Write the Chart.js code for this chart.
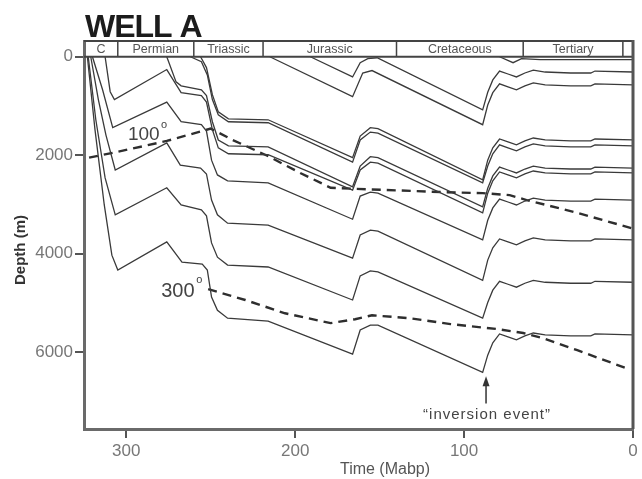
<!DOCTYPE html>
<html>
<head>
<meta charset="utf-8">
<title>Well A burial history</title>
<script src="https://cdn.jsdelivr.net/npm/chart.js@4.4.1/dist/chart.umd.min.js"></script>
<style>
  html, body { margin: 0; padding: 0; background: #fff; }
  #burialChart { display: block; }
</style>
</head>
<body>
<canvas id="burialChart" width="642" height="479"></canvas>
<script>
// burial curves, [age Ma, depth m], oldest horizon first
const horizonL1 = [[323,0],[318.5,1480],[313,3010],[308.5,4030],[305,4330],[276,3760],[267,4170],[255,4210],[252,4330],[249.5,4880],[246,5150],[240,5310],[216,5370],[166,6040],[161.5,5550],[155.5,5450],[151,5450],[89,6410],[86,6060],[83,5810],[79,5630],[74,5690],[69,5750],[64,5670],[59,5610],[52,5650],[37,5670],[25,5670],[22.5,5630],[0,5650]];
const horizonL2 = [[322.5,0],[318,1280],[312.5,2460],[306.5,3210],[276,2660],[267.5,3010],[255.5,3110],[252.5,3230],[249.5,3780],[246,4070],[240,4230],[216,4270],[166,4940],[161.5,4450],[155.5,4350],[151,4370],[89,5310],[86,4990],[83,4740],[79,4560],[74,4620],[69,4680],[64,4600],[59,4540],[52,4580],[37,4600],[25,4600],[22.5,4560],[0,4580]];
const horizonL3 = [[321,0],[316.5,870],[312,1590],[306.5,2300],[276,1750],[268,2200],[256,2260],[252.5,2380],[249.5,2910],[246,3210],[240,3380],[216,3420],[166,4090],[161.5,3620],[155.5,3520],[151,3540],[89,4540],[86,4130],[83,3880],[79,3700],[74,3760],[69,3820],[64,3740],[59,3680],[52,3720],[37,3740],[25,3740],[22.5,3700],[0,3720]];
const horizonL4 = [[320,0],[314,670],[308,1440],[276,920],[267.5,1320],[255.5,1380],[252.5,1510],[249.5,2100],[246,2400],[240,2520],[216,2560],[166,3300],[161.5,2830],[155.5,2750],[151,2770],[89,3720],[86,3320],[83,3070],[79,2890],[74,2950],[69,3010],[64,2930],[59,2870],[52,2910],[37,2930],[25,2930],[22.5,2890],[0,2910]];
const horizonL5 = [[312.5,0],[309.5,710],[307,870],[276,260],[267.5,730],[255.5,790],[252.5,920],[249,1480],[245.5,1850],[239.5,1970],[216,1990],[166,2710],[161.5,2300],[155.5,2140],[151,2160],[89,3170],[86,2770],[83,2520],[79,2340],[74,2400],[69,2460],[64,2380],[59,2320],[52,2360],[37,2380],[25,2380],[22.5,2340],[0,2360]];
const horizonP1 = [[276,0],[270.5,510],[267.5,590],[255.5,670],[252.5,790],[249,1320],[245.5,1690],[239.5,1810],[216,1830],[166,2640],[161.5,2220],[155.5,2030],[151,2050],[89,3050],[86,2670],[83,2420],[79,2240],[74,2300],[69,2360],[64,2280],[59,2220],[52,2260],[37,2280],[25,2280],[22.5,2240],[0,2260]];
const horizonTr1 = [[262,0],[255.5,100],[252,370],[249,870],[245.5,1180],[239.5,1320],[216,1340],[166,2140],[161.5,1690],[155.5,1530],[151,1550],[89,2560],[86,2220],[83,1970],[79,1790],[74,1850],[69,1910],[64,1830],[59,1770],[52,1810],[37,1830],[25,1830],[22.5,1790],[0,1810]];
const horizonTr2 = [[256,0],[252.5,220],[249,770],[245.5,1120],[239.5,1260],[216,1280],[166,2050],[161.5,1610],[155.5,1440],[151,1460],[89,2500],[86,2100],[83,1850],[79,1670],[74,1730],[69,1790],[64,1710],[59,1650],[52,1690],[37,1710],[25,1710],[22.5,1670],[0,1690]];
const horizonJ1 = [[215,0],[166,810],[160,330],[154.5,280],[89,1380],[86,980],[83,730],[79,550],[74,610],[69,670],[64,590],[59,530],[52,570],[37,590],[25,590],[22.5,550],[0,570]];
const horizonJ2 = [[191,0],[166,410],[161.5,120],[157,40],[151.5,20],[89,1080],[86,720],[83,470],[79,290],[74,350],[69,410],[64,330],[59,270],[52,310],[37,330],[25,330],[22.5,290],[0,310]];
const horizonT1 = [[79,0],[71,120],[66,40],[55,60],[0,60]];

// isotherms
const isotherm100 = [[322,2050],[305,1930],[276,1710],[250,1460],[237,1690],[216.5,2010],[197,2360],[179,2660],[166,2680],[112,2750],[89,2770],[73,2810],[63,2910],[33,3170],[1,3480]];
const isotherm300 = [[251.5,4720],[229.5,4940],[206,5210],[179,5410],[164.5,5330],[154.5,5250],[132,5310],[108,5430],[80.5,5530],[65,5610],[53,5720],[33,5960],[2,6350]];

const depthTicks = [0, 2000, 4000, 6000];
const timeTicks = [300, 200, 100, 0];
const periodNames = ['C', 'Permian', 'Triassic', 'Jurassic', 'Cretaceous', 'Tertiary', ''];
const periodEdges = [325, 305, 260, 219, 140, 65, 6, 0];

const horizons = [horizonL1, horizonL2, horizonL3, horizonL4, horizonL5, horizonP1,
                  horizonTr1, horizonTr2, horizonJ1, horizonJ2, horizonT1];

const toPoints = arr => arr.map(p => ({ x: p[0], y: p[1] }));

const datasets = horizons.map(h => ({
    data: toPoints(h),
    showLine: true,
    borderColor: '#3a3a3a',
    borderWidth: 1.3,
    pointRadius: 0,
    tension: 0,
    fill: false
}));
[isotherm100, isotherm300].forEach(iso => {
    datasets.push({
        data: toPoints(iso),
        showLine: true,
        borderColor: '#2e2e2e',
        borderWidth: 2.4,
        borderDash: [9, 6],
        pointRadius: 0,
        tension: 0,
        fill: false
    });
});

const FONT = '"Liberation Sans", Arial, sans-serif';

const wellPlugin = {
    id: 'wellDecor',
    afterDraw(chart) {
        const { ctx, chartArea: a, scales: { x, y } } = chart;
        ctx.save();

        // title
        ctx.fillStyle = '#1c1c1c';
        ctx.font = 'bold 32px ' + FONT;
        ctx.letterSpacing = '-1px';
        ctx.textAlign = 'left';
        ctx.textBaseline = 'alphabetic';
        ctx.fillText('WELL A', 85, 37);
        ctx.letterSpacing = '0px';

        // stratigraphic column
        const y0 = y.getPixelForValue(0);
        ctx.strokeStyle = '#444';
        ctx.lineWidth = 2;
        ctx.beginPath();
        ctx.moveTo(a.left, a.top); ctx.lineTo(a.right, a.top);
        ctx.moveTo(a.left, y0); ctx.lineTo(a.right, y0);
        ctx.stroke();
        ctx.lineWidth = 1.5;
        ctx.beginPath();
        periodEdges.slice(1, -1).forEach(age => {
            const px = x.getPixelForValue(age);
            ctx.moveTo(px, a.top); ctx.lineTo(px, y0);
        });
        ctx.stroke();
        ctx.fillStyle = '#555';
        ctx.font = '12.5px ' + FONT;
        ctx.textAlign = 'center';
        ctx.textBaseline = 'middle';
        periodNames.forEach((name, i) => {
            const cx = (x.getPixelForValue(periodEdges[i]) + x.getPixelForValue(periodEdges[i + 1])) / 2;
            ctx.fillText(name, cx, (a.top + y0) / 2 + 1);
        });

        // right frame
        ctx.strokeStyle = '#555';
        ctx.lineWidth = 3;
        ctx.beginPath();
        ctx.moveTo(a.right, a.top - 1); ctx.lineTo(a.right, a.bottom);
        ctx.stroke();

        // isotherm labels
        ctx.fillStyle = '#444';
        ctx.textAlign = 'left';
        ctx.textBaseline = 'alphabetic';
        let px = x.getPixelForValue(299), py = y.getPixelForValue(1690);
        ctx.font = '19px ' + FONT;
        ctx.fillText('100', px, py);
        ctx.font = '11px ' + FONT;
        ctx.fillText('o', px + 33, py - 12);
        px = x.getPixelForValue(279.3); py = y.getPixelForValue(4880);
        ctx.font = '20px ' + FONT;
        ctx.fillText('300', px, py);
        ctx.font = '11px ' + FONT;
        ctx.fillText('o', px + 35, py - 14);

        // inversion event arrow
        const ax = x.getPixelForValue(87);
        const tip = y.getPixelForValue(6490);
        const base = y.getPixelForValue(7040);
        ctx.strokeStyle = '#333';
        ctx.fillStyle = '#333';
        ctx.lineWidth = 1.5;
        ctx.beginPath();
        ctx.moveTo(ax, base); ctx.lineTo(ax, tip + 6);
        ctx.stroke();
        ctx.beginPath();
        ctx.moveTo(ax, tip); ctx.lineTo(ax - 3.5, tip + 10); ctx.lineTo(ax + 3.5, tip + 10);
        ctx.closePath();
        ctx.fill();
        ctx.fillStyle = '#444';
        ctx.font = '15px ' + FONT;
        ctx.letterSpacing = '1px';
        ctx.textAlign = 'center';
        ctx.fillText('\u201Cinversion event\u201D', x.getPixelForValue(86.4), y.getPixelForValue(7363));
        ctx.letterSpacing = '0px';

        // axis titles
        ctx.fillStyle = '#555';
        ctx.font = '16px ' + FONT;
        ctx.fillText('Time (Mabp)', 385, 474);
        ctx.translate(21, 250);
        ctx.rotate(-Math.PI / 2);
        ctx.fillStyle = '#333';
        ctx.font = 'bold 15px ' + FONT;
        ctx.textBaseline = 'middle';
        ctx.fillText('Depth (m)', 0, 0);

        ctx.restore();
    }
};

new Chart(document.getElementById('burialChart'), {
    type: 'scatter',
    data: { datasets },
    options: {
        responsive: false,
        animation: false,
        layout: { padding: { top: 41, right: 9, left: 0, bottom: 0 } },
        plugins: { legend: { display: false }, tooltip: { enabled: false } },
        scales: {
            x: {
                type: 'linear',
                reverse: true,
                min: 0,
                max: 325,
                afterBuildTicks: axis => { axis.ticks = timeTicks.map(v => ({ value: v })); },
                afterFit: axis => { axis.height = 50; },
                grid: { drawOnChartArea: false, drawTicks: true, tickLength: 9, color: '#555', lineWidth: 2 },
                border: { display: true, color: '#6a6a6a', width: 3 },
                ticks: {
                    color: '#777', padding: 3, autoSkip: false, maxRotation: 0,
                    font: { family: FONT, size: 17 },
                    callback: v => String(v)
                }
            },
            y: {
                type: 'linear',
                reverse: true,
                min: -320,
                max: 7560,
                afterBuildTicks: axis => { axis.ticks = depthTicks.map(v => ({ value: v })); },
                afterFit: axis => { axis.width = 84; },
                grid: { drawOnChartArea: false, drawTicks: true, tickLength: 9, color: '#555', lineWidth: 2 },
                border: { display: true, color: '#6a6a6a', width: 3 },
                ticks: {
                    color: '#777', padding: 2, autoSkip: false,
                    font: { family: FONT, size: 17 },
                    callback: v => String(v)
                }
            }
        }
    },
    plugins: [wellPlugin]
});
</script>
</body>
</html>
